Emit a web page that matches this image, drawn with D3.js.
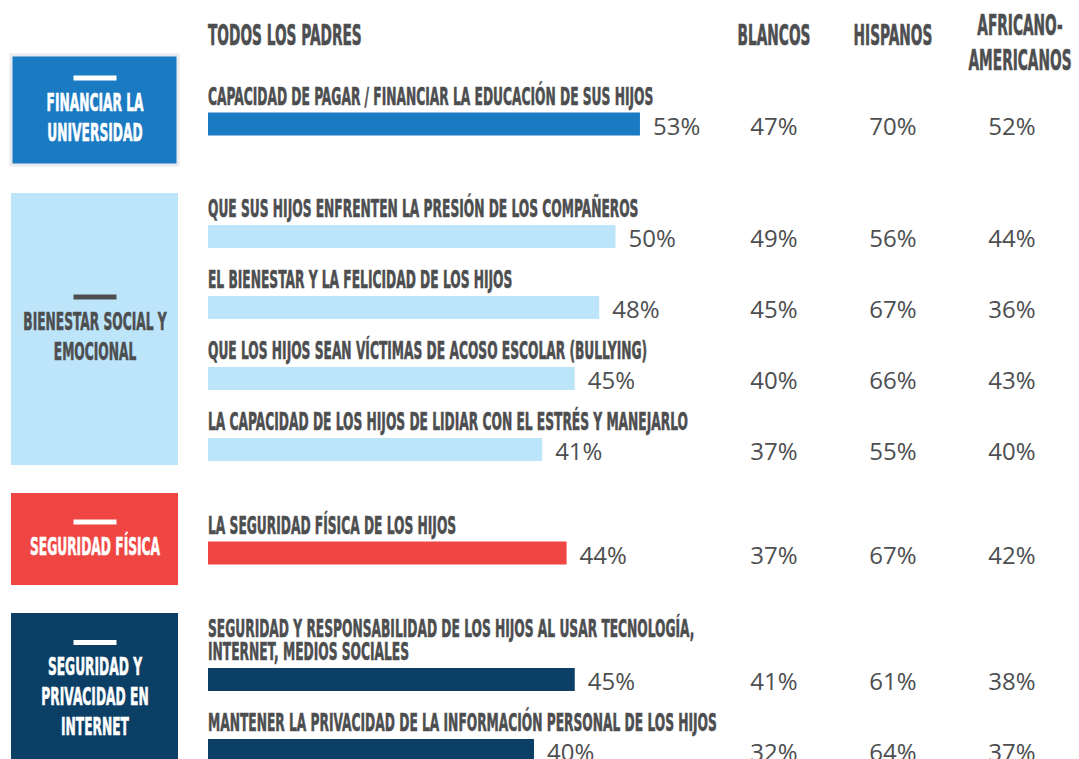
<!DOCTYPE html>
<html lang="es">
<head>
    <meta charset="utf-8">
    <title>Preocupaciones de los padres</title>
    <style>
        body{ margin:0; background:#fff; }
        svg{ display:block; }
    </style>
    <script src="https://cdn.jsdelivr.net/npm/d3@7"></script>
</head>
<body>
<div id="chart"></div>
<script>
    // datos
    var groupNames = [["FINANCIAR LA", "UNIVERSIDAD"], ["BIENESTAR SOCIAL Y", "EMOCIONAL"], ["SEGURIDAD FÍSICA"], ["SEGURIDAD Y", "PRIVACIDAD EN", "INTERNET"]];
    var groupColors = ["#1b7bc2", "#bde5f9", "#ef4543", "#0b3f66"];
    var groupInk = ["#fff", "#4d4e50", "#fff", "#fff"];
    var concerns = [
        ["CAPACIDAD DE PAGAR / FINANCIAR LA EDUCACIÓN DE SUS HIJOS"],
        ["QUE SUS HIJOS ENFRENTEN LA PRESIÓN DE LOS COMPAÑEROS"],
        ["EL BIENESTAR Y LA FELICIDAD DE LOS HIJOS"],
        ["QUE LOS HIJOS SEAN VÍCTIMAS DE ACOSO ESCOLAR (BULLYING)"],
        ["LA CAPACIDAD DE LOS HIJOS DE LIDIAR CON EL ESTRÉS Y MANEJARLO"],
        ["LA SEGURIDAD FÍSICA DE LOS HIJOS"],
        ["SEGURIDAD Y RESPONSABILIDAD DE LOS HIJOS AL USAR TECNOLOGÍA,", "INTERNET, MEDIOS SOCIALES"],
        ["MANTENER LA PRIVACIDAD DE LA INFORMACIÓN PERSONAL DE LOS HIJOS"]
    ];
    var concernGroup = [0, 1, 1, 1, 1, 2, 3, 3];
    var todos = [53, 50, 48, 45, 41, 44, 45, 40];
    var blancos = [47, 49, 45, 40, 37, 37, 41, 32];
    var hispanos = [70, 56, 67, 66, 55, 67, 61, 64];
    var africanos = [52, 44, 36, 43, 40, 42, 38, 37];
    var mainHeader = "TODOS LOS PADRES";
    var columnHeaders = [["BLANCOS"], ["HISPANOS"], ["AFRICANO-", "AMERICANOS"]];

    var GRAY = "#4d4e50";
    var COND = "'Liberation Sans Narrow', 'DejaVu Sans Condensed', sans-serif";
    var K = 0.545;   // compresion horizontal

    var svg = d3.select("#chart").append("svg")
        .attr("width", 1079)
        .attr("height", 759);

    var x = d3.scaleLinear().domain([0, 100]).range([208, 1023]);
    var col = d3.scalePoint().domain([0, 1, 2]).range([774, 1012]);

    function ctext(g, px, py, str, size, anchor, fill) {
        return g.append("text")
            .attr("transform", "translate(" + px + "," + py + ") scale(" + K + ",1)")
            .attr("font-family", COND)
            .attr("font-weight", 700)
            .attr("font-size", size)
            .attr("text-anchor", anchor)
            .attr("fill", fill)
            .attr("stroke", fill)
            .attr("stroke-width", 0.6)
            .text(str);
    }

    function pct(g, px, py, v, anchor) {
        return g.append("text")
            .attr("x", px).attr("y", py)
            .attr("text-anchor", anchor)
            .attr("font-family", "'Open Sans', sans-serif")
            .attr("font-size", 24).attr("fill", GRAY)
            .text(v + "%");
    }

    // cabeceras
    var head = svg.append("g").attr("class", "head");
    ctext(head, x(0), 45, mainHeader, 28, "start", GRAY);
    columnHeaders.forEach(function (lines, i) {
        lines.forEach(function (l, j) {
            var base = lines.length == 1 ? 45 : 35 + j * 35;
            ctext(head, col(i) + (lines.length == 1 ? 0 : 8), base, l, 28, "middle", GRAY);
        });
    });

    // layout de grupos
    var LINE = 23, CAP = 18, BAR_GAP = 8, BAR_H = 23, ROW_GAP = 22, GROUP_GAP = 28;
    function rowH(i) { return CAP + (concerns[i].length - 1) * LINE + BAR_GAP + BAR_H; }

    var y = 55;
    groupNames.forEach(function (names, gi) {
        var rows = d3.range(concerns.length).filter(function (i) { return concernGroup[i] == gi; });
        var contentH = d3.sum(rows, function (i) { return rowH(i) + ROW_GAP; }) - ROW_GAP;
        var boxH = Math.max(contentH + 10, 74 + 18 * names.length);
        var g = svg.append("g").attr("class", "group");

        g.append("rect")
            .attr("x", 11).attr("y", y)
            .attr("width", 167).attr("height", boxH)
            .attr("fill", groupColors[gi])
            .attr("stroke", gi == 0 ? "#e8ecf0" : "none")
            .attr("stroke-width", 3);

        var mid = y + boxH / 2 - 5;
        var blockH = 24 + 30 * (names.length - 1);
        var dashY = mid - blockH / 2;
        g.append("rect")
            .attr("x", 95 - 21.5).attr("y", dashY - 2.5)
            .attr("width", 43).attr("height", 5)
            .attr("fill", groupInk[gi]);
        names.forEach(function (n, j) {
            ctext(g, 95, dashY + 24 + 30 * j + 8.5, n, 25, "middle", groupInk[gi]);
        });

        var ry = y + (boxH - contentH) / 2 + 1;
        rows.forEach(function (i) {
            concerns[i].forEach(function (l, j) {
                ctext(g, x(0), ry + CAP + j * LINE, l, 25, "start", GRAY);
            });
            var barTop = ry + CAP + (concerns[i].length - 1) * LINE + BAR_GAP;
            g.append("rect")
                .attr("x", x(0)).attr("y", barTop)
                .attr("width", x(todos[i]) - x(0)).attr("height", BAR_H)
                .attr("fill", groupColors[gi]);

            pct(g, x(todos[i]) + 13, barTop + 22, todos[i], "start");
            [blancos[i], hispanos[i], africanos[i]].forEach(function (v, k) {
                pct(g, col(k), barTop + 22, v, "middle");
            });
            ry += rowH(i) + ROW_GAP;
        });

        y += boxH + GROUP_GAP;
    });
</script>
</body>
</html>
